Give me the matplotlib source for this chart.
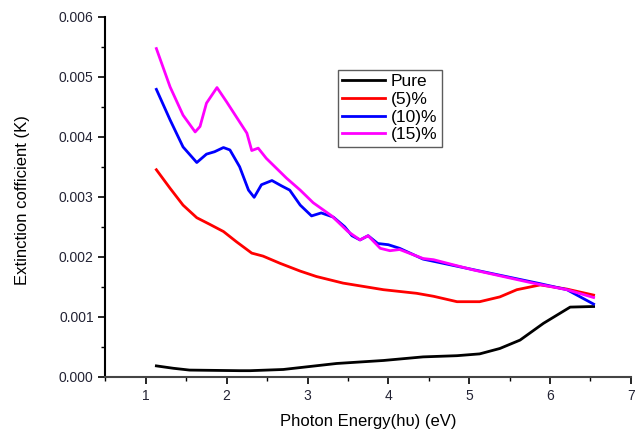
import numpy as np
import matplotlib
matplotlib.use("Agg")
import matplotlib.pyplot as plt
from matplotlib.ticker import MultipleLocator

plt.rcParams['font.family'] = ['Liberation Sans', 'DejaVu Sans']

# Données (énergie en eV, coefficient d'extinction K)
x_pure = [1.13, 1.34, 1.54, 2.16, 2.29, 2.70, 3.03, 3.36, 3.94, 4.43, 4.85, 5.13,
          5.38, 5.63, 5.92, 6.25, 6.54]
k_pure = [0.00018, 0.00014, 0.00011, 0.00010, 0.00010, 0.00012, 0.00017, 0.00022,
          0.00027, 0.00033, 0.00035, 0.00038, 0.00047, 0.00061, 0.00089, 0.00116, 0.00117]

x_5 = [1.13, 1.30, 1.46, 1.63, 1.79, 1.96, 2.12, 2.31, 2.45, 2.66, 2.91, 3.11, 3.44,
       3.94, 4.35, 4.56, 4.85, 5.13, 5.38, 5.59, 5.88, 6.21, 6.54]
k_5 = [0.00345, 0.00314, 0.00286, 0.00265, 0.00254, 0.00242, 0.00225, 0.00206, 0.00201,
       0.00189, 0.00176, 0.00167, 0.00156, 0.00145, 0.00139, 0.00134, 0.00125, 0.00125,
       0.00133, 0.00145, 0.00153, 0.00146, 0.00136]

x_10 = [1.13, 1.30, 1.46, 1.63, 1.75, 1.85, 1.96, 2.04, 2.16, 2.27, 2.34, 2.43, 2.56,
        2.68, 2.78, 2.91, 3.05, 3.17, 3.32, 3.46, 3.55, 3.65, 3.75, 3.87, 4.00, 4.14,
        4.43, 5.88, 6.21, 6.54]
k_10 = [0.00479, 0.00428, 0.00383, 0.00357, 0.00371, 0.00375, 0.00382, 0.00378, 0.00350,
        0.00311, 0.00299, 0.00320, 0.00327, 0.00318, 0.00311, 0.00286, 0.00268, 0.00273,
        0.00266, 0.00250, 0.00235, 0.00228, 0.00235, 0.00222, 0.00220, 0.00214,
        0.00196, 0.00155, 0.00145, 0.00121]

x_15 = [1.13, 1.30, 1.46, 1.61, 1.67, 1.75, 1.88, 2.00, 2.12, 2.25, 2.31, 2.39, 2.49,
        2.74, 2.91, 3.07, 3.30, 3.50, 3.65, 3.75, 3.90, 4.02, 4.14, 4.43, 4.56, 5.05,
        5.79, 6.21, 6.54]
k_15 = [0.00547, 0.00483, 0.00436, 0.00408, 0.00417, 0.00456, 0.00482, 0.00458, 0.00433,
        0.00406, 0.00377, 0.00381, 0.00364, 0.00331, 0.00311, 0.00290, 0.00268, 0.00242,
        0.00228, 0.00235, 0.00214, 0.00210, 0.00212, 0.00197, 0.00195, 0.00178,
        0.00156, 0.00145, 0.00132]

fig = plt.figure(figsize=(6.43, 4.30), dpi=100)
ax = fig.add_axes([0.164, 0.124, 0.817, 0.837])

ax.plot(x_pure, k_pure, color='black', lw=2, label='Pure')
ax.plot(x_5, k_5, color='#ff0000', lw=2, label='(5)%')
ax.plot(x_10, k_10, color='#0000ff', lw=2, label='(10)%')
ax.plot(x_15, k_15, color='#ff00ff', lw=2, label='(15)%')

ax.set_xlim(0.5, 7)
ax.set_ylim(0, 0.006)
ax.xaxis.set_major_locator(MultipleLocator(1))
ax.xaxis.set_minor_locator(MultipleLocator(0.5))
ax.yaxis.set_major_locator(MultipleLocator(0.001))
ax.yaxis.set_minor_locator(MultipleLocator(0.0005))
ax.yaxis.set_major_formatter(plt.FormatStrFormatter('%.3f'))

ax.spines['top'].set_visible(False)
ax.spines['right'].set_visible(False)
ax.spines['left'].set_linewidth(1.5)
ax.spines['bottom'].set_linewidth(1.5)
ax.spines['bottom'].set_color('#444444')
ax.tick_params(which='major', direction='out', length=5, width=1.2, labelsize=10,
               labelcolor='#222233')
ax.tick_params(which='minor', direction='out', length=3, width=1.0)
ax.tick_params(axis='x', pad=4)

ax.set_xlabel('Photon Energy(hυ) (eV)', fontsize=12)
ax.set_ylabel('Extinction cofficient (K)', fontsize=12)
ax.xaxis.set_label_coords(0.501, -0.104)
ax.yaxis.set_label_coords(-0.143, 0.49)

leg = ax.legend(loc='upper left', bbox_to_anchor=(0.442, 0.853), fontsize=12.5,
                frameon=True, fancybox=False, handlelength=2.5, handletextpad=0.3,
                labelspacing=0.15, borderpad=0.25, borderaxespad=0)
leg.get_frame().set_edgecolor('#333333')
leg.get_frame().set_linewidth(1.0)

fig.savefig('out.png', dpi=100)
